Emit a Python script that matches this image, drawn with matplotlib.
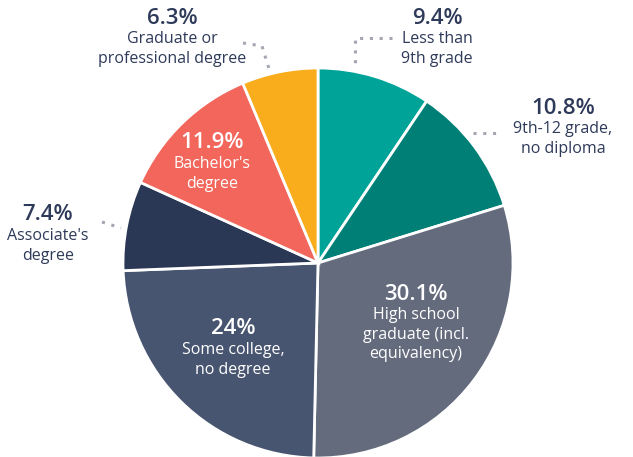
import matplotlib.pyplot as plt

# Educational attainment shares (percent), clockwise from 12 o'clock
categories = ["Less than\n9th grade", "9th-12 grade,\nno diploma",
              "High school\ngraduate (incl.\nequivalency)", "Some college,\nno degree",
              "Associate's\ndegree", "Bachelor's\ndegree", "Graduate or\nprofessional degree"]
pct_labels = ["9.4%", "10.8%", "30.1%", "24%", "7.4%", "11.9%", "6.3%"]
values = [9.4, 10.8, 30.1, 24.0, 7.4, 11.9, 6.3]
colors = ["#00A398", "#007F76", "#646B7D", "#485570", "#2B3855", "#F2665B", "#F9AC1C"]

W, H = 633, 457
DARK = "#2E3A59"
plt.rcParams['font.family'] = ['Open Sans', 'DejaVu Sans']

fig = plt.figure(figsize=(W / 100, H / 100), dpi=100)
ax = fig.add_axes([0, 0, 1, 1])

# pie drawn in pixel coords; y axis is flipped so counterclock=True runs clockwise on screen
ax.pie(values, colors=colors, startangle=-90, counterclock=True,
       center=(318, 263), radius=195, frame=True,
       wedgeprops=dict(edgecolor="white", linewidth=2))
ax.set_xlim(0, W)
ax.set_ylim(H, 0)
ax.set_aspect("equal")
ax.axis("off")

# (x, y of percentage, text colour) for each slice label
label_pos = [(437, 18, DARK), (563, 108, DARK), (416, 294, "white"), (233, 329, "white"),
             (48, 215, DARK), (212, 143, "white"), (172, 18, DARK)]
for (x, y, c), p, cat in zip(label_pos, pct_labels, categories):
    ax.text(x, y, p, ha="center", va="center", fontsize=16, fontweight="semibold", color=c)
    ax.text(x, y + 13, cat, ha="center", va="top", fontsize=11.5, color=c,
            linespacing=1.3)

# dotted leader lines
dot = dict(color="#A3A7B1", linestyle=(0, (1, 2.2)), linewidth=2.2, solid_capstyle="round")
ax.plot([243, 262, 270], [43, 46, 72], **dot)
ax.plot([392, 355, 355], [38, 38, 66], **dot)
ax.plot([473, 499], [133, 133], **dot)
ax.plot([102, 121], [222, 228], **dot)

fig.savefig("out.png", dpi=100)
